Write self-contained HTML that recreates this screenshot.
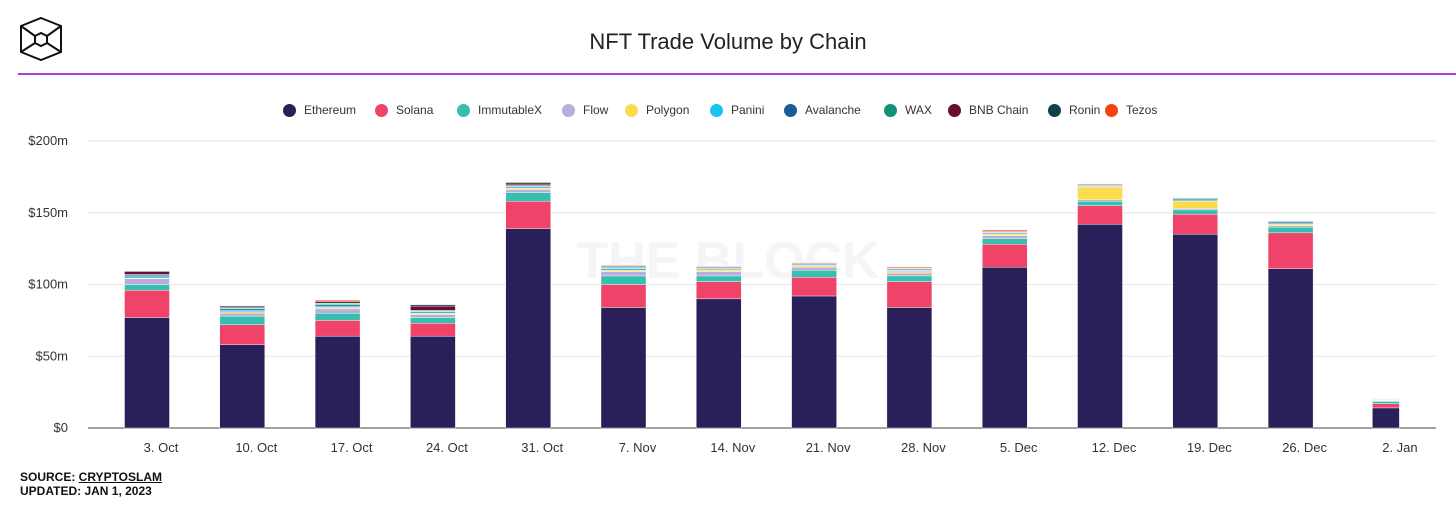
<!DOCTYPE html>
<html><head><meta charset="utf-8"><style>
body{margin:0;width:1456px;height:505px;background:#fff;overflow:hidden;font-family:"Liberation Sans",sans-serif;position:relative}
.lg{position:absolute;top:103px;font-size:12px;color:#333;display:flex;align-items:center;white-space:nowrap}
.lg i{display:inline-block;width:13px;height:13px;border-radius:50%;margin-right:8px}
</style></head><body>
<svg style="position:absolute;left:18px;top:16px" width="46" height="48" viewBox="0 0 46 48">
<g fill="none" stroke="#111" stroke-width="2"><polygon points="23,2 43,10 43,36 23,44 3,36 3,10"/><polygon points="23,17 29,20 29,27 23,30 17,27 17,20"/><line x1="3" y1="10" x2="17" y2="20"/><line x1="43" y1="10" x2="29" y2="20"/><line x1="3" y1="36" x2="17" y2="27"/><line x1="43" y1="36" x2="29" y2="27"/></g></svg>
<div style="position:absolute;left:0;width:1456px;top:29px;text-align:center;font-size:22px;color:#222">NFT Trade Volume by Chain</div>
<div style="position:absolute;left:18px;top:73px;width:1438px;height:2px;background:#b03ee8"></div>
<div id="legend"></div>
<svg id="chart" style="position:absolute;left:0;top:0" width="1456" height="505"></svg>
<div style="position:absolute;left:20px;top:470px;font-size:12px;font-weight:bold;color:#111;line-height:14px">SOURCE: <span style="text-decoration:underline">CRYPTOSLAM</span><br>UPDATED: JAN 1, 2023</div>
<script>
const categories=["3. Oct","10. Oct","17. Oct","24. Oct","31. Oct","7. Nov","14. Nov","21. Nov","28. Nov","5. Dec","12. Dec","19. Dec","26. Dec","2. Jan"];
const seriesNames=["Ethereum","Solana","ImmutableX","Flow","Polygon","Panini","Avalanche","WAX","BNB Chain","Ronin","Tezos"];
const seriesColors=["#29205a","#f0436a","#36bfaf","#b9acde","#fcdc4d","#1cc2f0","#1a5d94","#11907a","#6b0d33","#0e4249","#f5420f"];
const ethereum=[77,58,64,64,139,84,90,92,84,112,142,135,111,14];
const solana=[19,14,11,9,19,16,12,13,18,16,13,14,25,3];
const immutablex=[4,6,5,4,6,6,4,5,4,4,3,3,4,1.5];
const flow=[4,2,3,2,2,3,3,2,2,2,1,1,1,0.5];
const polygon=[0.5,1,1,1,1,1,1,1,1,1,9,5,1,0.3];
const panini=[1,1,1,1,1,1,0.5,0.5,0.5,0.5,0.5,0.5,0.5,0.3];
const avalanche=[1,1,1,0.5,0.5,0.5,0.5,0.5,0.5,0.5,0.5,0.5,1,0.2];
const wax=[0.5,0.5,0.5,0.5,0.5,0.5,0.5,0.5,0.5,0.5,0.3,1,0.5,0.2];
const bnb=[2,0.5,0.5,3,1,0.5,0.5,0.5,0.5,0.5,0.5,0.3,0.3,0.2];
const ronin=[0.5,1,1,1,1,0.5,0.5,0.3,0.3,0.3,0.3,0.3,0.3,0.2];
const tezos=[0.3,0.3,1,0.3,0.5,0.5,0.3,0.3,0.7,0.7,0.3,0.2,0.2,0.1];
const yTicks=[0,50,100,150,200];
const yTickLabels=["$0","$50m","$100m","$150m","$200m"];
const series=[ethereum,solana,immutablex,flow,polygon,panini,avalanche,wax,bnb,ronin,tezos];
const legendX=[283,375,457,562,625,710,784,884,948,1048,1105];

const NS="http://www.w3.org/2000/svg";
const svg=document.getElementById('chart');
const y=v=>428-v*(287/200);
const x=i=>147+i*95.3;
function mk(t,a){const e=document.createElementNS(NS,t);for(const k in a)e.setAttribute(k,a[k]);svg.appendChild(e);return e;}
const wm=mk('text',{x:728,y:278,'text-anchor':'middle','font-size':52,'font-weight':'bold',fill:'#f5f5f5','font-family':'Liberation Sans, sans-serif'});
wm.textContent="THE BLOCK";


yTicks.forEach((t,i)=>{
  const g=mk('line',{x1:88,x2:1436,y1:y(t),y2:y(t),stroke:i==0?'#444':'#e6e6e6','stroke-width':1});
  
  
  const l=mk('text',{x:68,y:y(t)+4,'text-anchor':'end','font-size':13,fill:'#333','font-family':'Liberation Sans, sans-serif'});
  l.textContent=yTickLabels[i];
  
  
});
categories.forEach((c,i)=>{
  let acc=0;
  const w=i==categories.length-1?27:45;
  series.forEach((s,k)=>{
    const v=s[i];
    const r=mk('rect',{x:x(i)-w/2,y:y(acc+v),width:w,height:Math.max(0,y(acc)-y(acc+v)),fill:seriesColors[k],stroke:'#fff','stroke-width':0.4});
    
    
    acc+=v;
  });
  const t=mk('text',{x:x(i)+14,y:452,'text-anchor':'middle','font-size':13,fill:'#333','font-family':'Liberation Sans, sans-serif'});
  t.textContent=c;
  
  
});
const lg=document.getElementById('legend');
seriesNames.forEach((n,k)=>{
  const d=document.createElement('div');
  d.className='lg';d.style.left=legendX[k]+'px';
  d.innerHTML='<i style="background:'+seriesColors[k]+'"></i>'+n;
  
  
  lg.appendChild(d);
});
</script>
</body></html>
